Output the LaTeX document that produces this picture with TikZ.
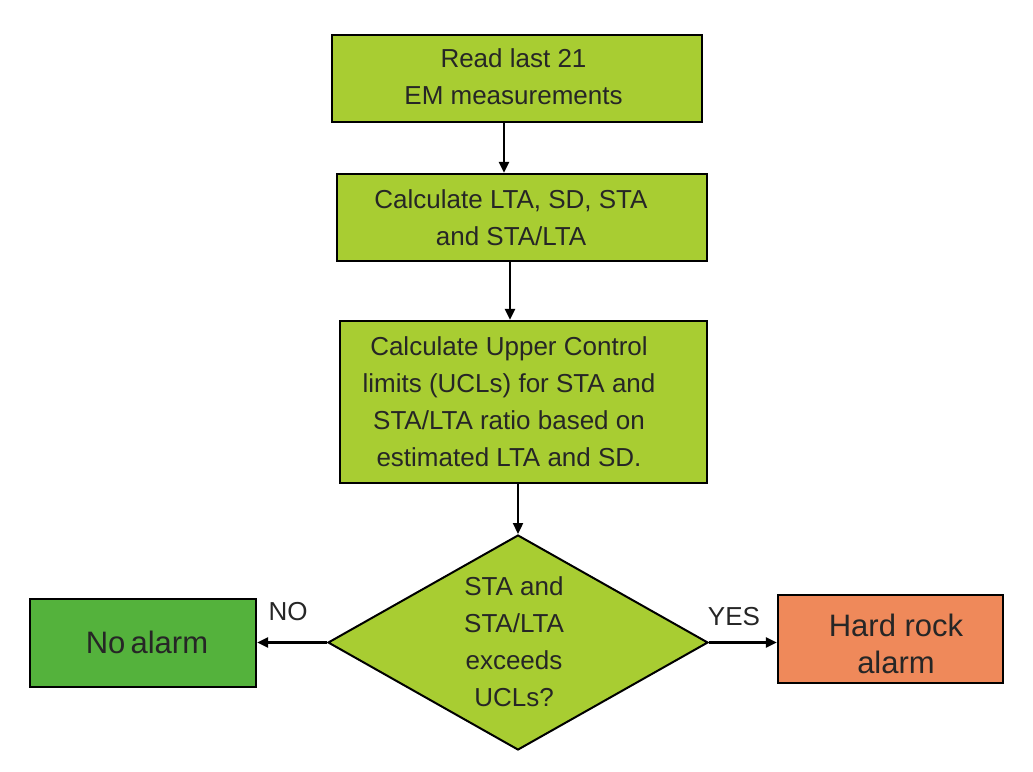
\documentclass[tikz,border=0pt]{standalone}
\usepackage{fontspec}
\setmainfont{Liberation Sans}
\usetikzlibrary{shapes.geometric,arrows.meta}
\definecolor{lime}{RGB}{168,205,50}
\definecolor{darkgreen}{RGB}{84,178,60}
\definecolor{salmon}{RGB}{239,137,90}
\definecolor{ink}{RGB}{38,38,38}
\tikzset{
  stepbox/.style={draw=black, line width=2.2pt, fill=lime, inner sep=0pt},
  decbox/.style={shape=diamond, draw=black, line width=2pt, fill=lime, inner sep=0pt},
  txt/.style={text=ink, align=center, font=\fontsize{26}{37}\selectfont, inner sep=0pt},
  bigtxt/.style={text=ink, align=center, font=\fontsize{31}{37}\selectfont, inner sep=0pt},
  conn/.style={draw=black, line width=2.3pt, -{Triangle[length=11pt,width=10pt]}},
  lbl/.style={text=ink, font=\fontsize{26}{30}\selectfont, inner sep=0pt}
}
\begin{document}
\begin{tikzpicture}[x=1pt,y=-1pt]
\useasboundingbox (0,0) rectangle (1033,771);
\fill[white] (0,0) rectangle (1033,771);
% boxes
\node[stepbox, minimum width=370pt, minimum height=87pt] (b1) at (517,78.5) {};
\node[txt] (t1) at (513.5,77) {Read last 21\\EM measurements};
\node[stepbox, minimum width=370pt, minimum height=87pt] (b2) at (522,217.5) {};
\node[txt] (t2) at (511,218) {Calculate LTA, SD, STA\\and STA/LTA};
\node[stepbox, minimum width=367pt, minimum height=162pt] (b3) at (523.5,402) {};
\node[txt] (t3) at (509,402) {Calculate Upper Control\\limits (UCLs) for STA and\\STA/LTA ratio based on\\estimated LTA and SD.};
\node[decbox, minimum width=380pt, minimum height=215pt] (d) at (518,642.5) {};
\node[txt] (td) at (514,642) {STA and\\STA/LTA\\exceeds\\UCLs?};
\node[draw=black, line width=2.2pt, fill=darkgreen, minimum width=226pt, minimum height=88pt, inner sep=0pt] (no) at (143,643) {};
\node[bigtxt] (tno) at (147,642) {No\,alarm};
\node[draw=black, line width=2.2pt, fill=salmon, minimum width=225pt, minimum height=88pt, inner sep=0pt] (hr) at (890.5,639) {};
\node[bigtxt] (thr) at (896,643.5) {Hard rock\\alarm};
% connectors
\draw[conn] ([xshift=-13pt]b1.south) -- ([xshift=-13pt]b1.south |- b2.north);
\draw[conn] ([xshift=-12pt]b2.south) -- ([xshift=-12pt]b2.south |- b3.north);
\draw[conn] (d.north |- b3.south) -- (d.north);
\draw[conn] (d.west) -- (d.west -| no.east);
\draw[conn] (d.east) -- (d.east -| hr.west);
% labels
\node[lbl] (lno) at (288,612) {NO};
\node[lbl] (lyes) at (734,617) {YES};
\end{tikzpicture}
\end{document}
